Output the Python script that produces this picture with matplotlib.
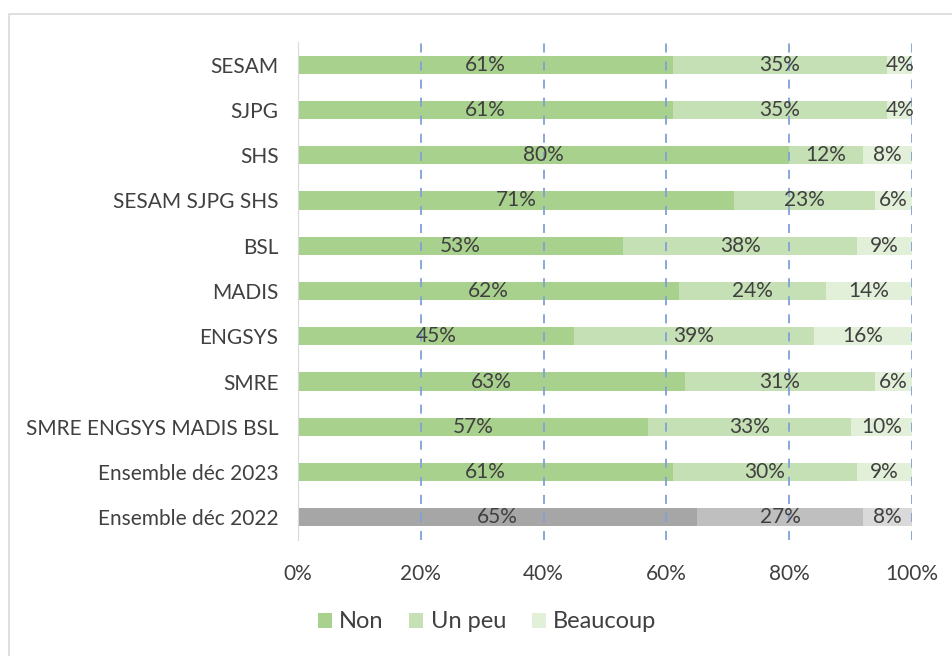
import numpy as np
import matplotlib.pyplot as plt
from matplotlib.patches import Rectangle

plt.rcParams['font.family'] = ['Lato', 'DejaVu Sans']

categories = ["SESAM", "SJPG", "SHS", "SESAM SJPG SHS", "BSL", "MADIS", "ENGSYS",
              "SMRE", "SMRE ENGSYS MADIS BSL", "Ensemble déc 2023", "Ensemble déc 2022"]
non = [61, 61, 80, 71, 53, 62, 45, 63, 57, 61, 65]
un_peu = [35, 35, 12, 23, 38, 24, 39, 31, 33, 30, 27]
beaucoup = [4, 4, 8, 6, 9, 14, 16, 6, 10, 9, 8]
series_names = ["Non", "Un peu", "Beaucoup"]

greens = ['#A9D18E', '#C5E0B4', '#E2F0D9']
greys = ['#A6A6A6', '#BFBFBF', '#D9D9D9']
txt = '#404040'

fig = plt.figure(figsize=(9.52, 6.56), dpi=100)
W, H = 952, 656

# chart frame
fig.patches.append(Rectangle((9 / W, 0 - 0.01), 1.0, 1 - 13.5 / H + 0.01,
                             transform=fig.transFigure, fill=False,
                             edgecolor='#D9D9D9', lw=1.2))

ax = fig.add_axes([298 / W, 1 - 540 / H, (912 - 298) / W, (540 - 42) / H])

y = np.arange(len(categories))
left = np.zeros(len(categories))
for k, vals in enumerate([non, un_peu, beaucoup]):
    vals = np.array(vals)
    cols = [greys[k] if c == "Ensemble déc 2022" else greens[k] for c in categories]
    ax.barh(y, vals, left=left, height=0.4, color=cols, label=series_names[k], zorder=1)
    for yi, l, v in zip(y, left, vals):
        ax.text(l + v / 2, yi, f"{v}%", ha='center', va='center',
                fontsize=15, color=txt, zorder=3)
    left = left + vals

ax.set_xlim(0, 100)
ax.set_ylim(len(categories) - 0.5, -0.5)
ax.set_yticks(y)
ax.set_yticklabels(categories, fontsize=15, color=txt)
ax.set_xticks([0, 20, 40, 60, 80, 100])
ax.set_xticklabels([f"{t}%" for t in [0, 20, 40, 60, 80, 100]], fontsize=15, color=txt)
ax.tick_params(axis='both', length=0)
ax.tick_params(axis='x', pad=17)
ax.tick_params(axis='y', pad=14)

for t in [20, 40, 60, 80, 100]:
    ax.axvline(t, color='#7FA1D8', lw=1.3, ls=(0, (5, 5)), zorder=2)

for s in ['top', 'right', 'bottom']:
    ax.spines[s].set_visible(False)
ax.spines['left'].set_color('#D9D9D9')

handles, labels = ax.get_legend_handles_labels()
leg = fig.legend(handles, labels, loc='center', bbox_to_anchor=(487 / W, 1 - 622 / H),
                 ncol=3, frameon=False, fontsize=17, handlelength=0.6, handleheight=0.6,
                 handletextpad=0.3, columnspacing=1.1)
for t in leg.get_texts():
    t.set_color(txt)

fig.savefig("out.png", dpi=100)
